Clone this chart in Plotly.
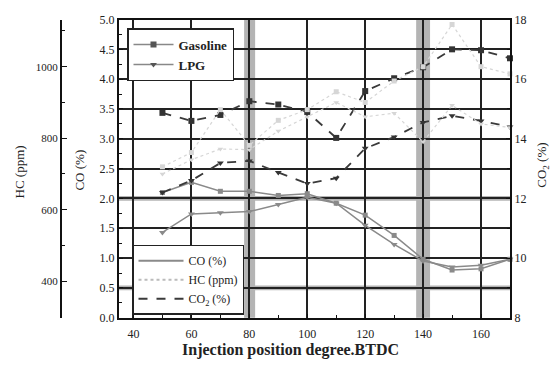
import plotly.graph_objects as go

# ---- data ----
x_deg = [50, 60, 70, 80, 90, 100, 110, 120, 130, 140, 150, 160, 170]

co_gasoline = [2.10, 2.27, 2.12, 2.12, 2.05, 2.08, 1.92, 1.72, 1.38, 0.98, 0.80, 0.82, 0.98]
co_lpg      = [1.43, 1.74, 1.76, 1.78, 1.90, 2.02, 1.92, 1.55, 1.23, 0.95, 0.85, 0.88, 0.98]

hc_gasoline = [720, 760, 880, 780, 850, 880, 930, 900, 960, 1000, 1118, 1000, 980]
hc_lpg      = [700, 740, 770, 768, 820, 860, 900, 860, 870, 790, 892, 840, 830]

co2_gasoline = [14.87, 14.60, 14.80, 15.26, 15.15, 14.90, 14.03, 15.60, 16.03, 16.40, 17.00, 16.97, 16.70]
co2_lpg      = [12.20, 12.60, 13.19, 13.26, 12.87, 12.50, 12.68, 13.68, 14.06, 14.55, 14.77, 14.60, 14.40]

x_ticks = [40, 60, 80, 100, 120, 140, 160]
co_ticks = [0.0, 0.5, 1.0, 1.5, 2.0, 2.5, 3.0, 3.5, 4.0, 4.5, 5.0]
co2_ticks = [8, 10, 12, 14, 16, 18]
hc_ticks = [400, 600, 800, 1000]

SERIF = "Liberation Serif"
W, H = 560, 369

def px_x(p):
    return p / W

def px_y(p):
    return (H - p) / H

fig = go.Figure()

co_col = "#8a8a8a"
hc_col = "#d6d6d6"
co2_col = "#3a3a3a"
mk_col = "#333333"

# CO curves (solid)
fig.add_trace(go.Scatter(x=x_deg, y=co_gasoline, mode="lines+markers", yaxis="y",
                         line=dict(color=co_col, width=1.5),
                         marker=dict(symbol="square", size=5, color=co_col),
                         showlegend=False, cliponaxis=False))
fig.add_trace(go.Scatter(x=x_deg, y=co_lpg, mode="lines+markers", yaxis="y",
                         line=dict(color=co_col, width=1.5),
                         marker=dict(symbol="triangle-down", size=6, color=co_col),
                         showlegend=False, cliponaxis=False))
# HC curves (dotted)
fig.add_trace(go.Scatter(x=x_deg, y=hc_gasoline, mode="lines+markers", yaxis="y3",
                         line=dict(color=hc_col, width=1.2, dash="dot"),
                         marker=dict(symbol="square", size=5, color=hc_col),
                         showlegend=False, cliponaxis=False))
fig.add_trace(go.Scatter(x=x_deg, y=hc_lpg, mode="lines+markers", yaxis="y3",
                         line=dict(color=hc_col, width=1.2, dash="dot"),
                         marker=dict(symbol="triangle-down", size=5, color=hc_col),
                         showlegend=False, cliponaxis=False))
# CO2 curves (dashed)
fig.add_trace(go.Scatter(x=x_deg, y=co2_gasoline, mode="lines+markers", yaxis="y2",
                         line=dict(color=co2_col, width=1.8, dash="dash"),
                         marker=dict(symbol="square", size=6, color=mk_col),
                         showlegend=False, cliponaxis=False))
fig.add_trace(go.Scatter(x=x_deg, y=co2_lpg, mode="lines+markers", yaxis="y2",
                         line=dict(color=co2_col, width=1.8, dash="dash"),
                         marker=dict(symbol="triangle-down", size=6, color=mk_col),
                         showlegend=False, cliponaxis=False))

# legend 1: fuels
fig.add_trace(go.Scatter(x=[None], y=[None], mode="lines+markers", name="Gasoline",
                         line=dict(color="#888", width=1.5),
                         marker=dict(symbol="square", size=6, color="#555"), legend="legend"))
fig.add_trace(go.Scatter(x=[None], y=[None], mode="lines+markers", name="LPG",
                         line=dict(color="#888", width=1.5),
                         marker=dict(symbol="triangle-down", size=6, color="#555"), legend="legend"))
# legend 2: species
fig.add_trace(go.Scatter(x=[None], y=[None], mode="lines", name="CO (%)",
                         line=dict(color=co_col, width=2), legend="legend2"))
fig.add_trace(go.Scatter(x=[None], y=[None], mode="lines", name="HC (ppm)",
                         line=dict(color="#bbbbbb", width=2, dash="dot"), legend="legend2"))
fig.add_trace(go.Scatter(x=[None], y=[None], mode="lines", name="CO<sub>2</sub> (%)",
                         line=dict(color=co2_col, width=2, dash="dash"), legend="legend2"))

# gray bands
shapes = []
for a, b in [(78.2, 82.0), (137.6, 142.4)]:
    shapes.append(dict(type="rect", xref="x", yref="paper", x0=a, x1=b,
                       y0=px_y(323), y1=px_y(13), fillcolor="#b4b4b4",
                       line=dict(width=0), layer="below"))
for c in [0.5, 2.0]:
    shapes.append(dict(type="rect", xref="paper", yref="y", x0=px_x(119), x1=px_x(510),
                       y0=c - 0.04, y1=c + 0.04, fillcolor="#b4b4b4",
                       line=dict(width=0), layer="below"))

tickfont = dict(family=SERIF, size=12, color="#222")
xdom = [px_x(119), px_x(510)]
ydom = [px_y(323), px_y(13)]

fig.update_layout(
    width=W, height=H,
    margin=dict(l=0, r=0, t=0, b=0),
    paper_bgcolor="white", plot_bgcolor="white",
    showlegend=True,
    shapes=shapes,
    xaxis=dict(domain=xdom, range=[35, 170], tickvals=x_ticks, ticktext=[str(v) for v in x_ticks],
               showgrid=True, gridcolor="#222", gridwidth=1.5,
               showline=True, linecolor="#111", linewidth=2, mirror=True,
               ticks="inside", ticklen=4, tickcolor="#111", ticklabelstandoff=4,
               minor=dict(tickvals=[50, 70, 90, 110, 130, 150, 170], ticks="inside", ticklen=3, tickcolor="#111"),
               tickfont=tickfont, zeroline=False),
    yaxis=dict(domain=ydom, range=[0, 5], tickvals=co_ticks, ticktext=[f"{v:.1f}" for v in co_ticks],
               showgrid=True, gridcolor="#222", gridwidth=1.5,
               showline=True, linecolor="#111", linewidth=2, mirror=True,
               ticks="inside", ticklen=4, tickcolor="#111",
               minor=dict(dtick=0.25, ticks="inside", ticklen=3, tickcolor="#111"),
               tickfont=tickfont, zeroline=False),
    yaxis2=dict(range=[8, 18], overlaying="y", side="right", anchor="x",
                tickvals=co2_ticks, ticktext=[str(v) for v in co2_ticks],
                showgrid=False, showline=True, linecolor="#111", linewidth=2,
                ticks="inside", ticklen=4, tickcolor="#111",
                minor=dict(dtick=1, ticks="inside", ticklen=3, tickcolor="#111"),
                tickfont=tickfont, zeroline=False),
    yaxis3=dict(range=[298, 1132], overlaying="y", side="left", anchor="free", position=px_x(61),
                tickvals=hc_ticks, ticktext=[str(v) for v in hc_ticks],
                showgrid=False, showline=True, linecolor="#111", linewidth=2,
                ticks="inside", ticklen=5, tickcolor="#111",
                minor=dict(dtick=100, ticks="inside", ticklen=3, tickcolor="#111"),
                tickfont=dict(family=SERIF, size=11, color="#222"), zeroline=False),
    legend=dict(x=px_x(127), y=px_y(22), xanchor="left", yanchor="top",
                bgcolor="white", bordercolor="#222", borderwidth=1.5,
                font=dict(family=SERIF, size=13, color="#222", weight="bold"),
                itemwidth=40, tracegroupgap=0),
    legend2=dict(x=px_x(132), y=px_y(247), xanchor="left", yanchor="top",
                 bgcolor="white", bordercolor="#222", borderwidth=1.5,
                 font=dict(family=SERIF, size=12, color="#222"),
                 itemwidth=45, tracegroupgap=0),
    annotations=[
        dict(text="Injection position degree.BTDC", x=px_x(290), y=px_y(357), xref="paper", yref="paper",
             xanchor="center", yanchor="middle",
             showarrow=False, font=dict(family=SERIF, size=16, color="#222", weight="bold")),
        dict(text="CO (%)", x=px_x(80), y=px_y(170), xref="paper", yref="paper", textangle=-90,
             xanchor="center", yanchor="middle",
             showarrow=False, font=dict(family=SERIF, size=13, color="#222")),
        dict(text="HC (ppm)", x=px_x(19), y=px_y(172), xref="paper", yref="paper", textangle=-90,
             xanchor="center", yanchor="middle",
             showarrow=False, font=dict(family=SERIF, size=13, color="#222")),
        dict(text="CO<sub>2</sub> (%)", x=px_x(543), y=px_y(165), xref="paper", yref="paper", textangle=-90,
             xanchor="center", yanchor="middle",
             showarrow=False, font=dict(family=SERIF, size=13, color="#222")),
    ],
)

fig.write_html("out.html")
